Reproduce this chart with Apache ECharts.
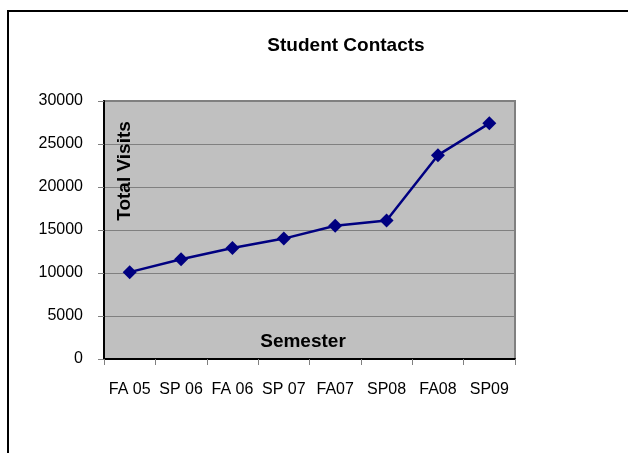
<!DOCTYPE html>
<html>
<head>
<meta charset="utf-8">
<script src="https://cdn.jsdelivr.net/npm/echarts@6/dist/echarts.min.js"></script>
<style>
html,body{margin:0;padding:0;background:#fff;}
#chart{width:628px;height:453px;}
</style>
</head>
<body>
<div id="chart"></div>
<script>
var categories = ['FA 05', 'SP 06', 'FA 06', 'SP 07', 'FA07', 'SP08', 'FA08', 'SP09'];
var totalVisits = [10100, 11600, 12900, 14000, 15500, 16100, 23700, 27400];
var chartTitle = 'Student Contacts';
var yAxisTitle = 'Total Visits';
var xAxisTitle = 'Semester';

var FONT = '"Liberation Sans", Arial, sans-serif';
var chart = echarts.init(document.getElementById('chart'), null, {renderer: 'canvas'});
chart.setOption({
  animation: false,
  backgroundColor: '#ffffff',
  title: {
    text: chartTitle,
    left: 341, top: 31,
    textAlign: 'center',
    textStyle: {fontFamily: FONT, fontSize: 19, fontWeight: 'bold', color: '#000'}
  },
  graphic: [
    {type: 'rect', shape: {x: 8, y: 11, width: 700, height: 520},
     style: {fill: 'none', stroke: '#000', lineWidth: 2}, z: 100, silent: true},
    {type: 'text', x: 125, y: 171, rotation: Math.PI / 2,
     style: {text: yAxisTitle, font: 'bold 19px ' + FONT, fill: '#000', align: 'center', verticalAlign: 'middle'}, z: 100},
    {type: 'text', x: 303, y: 342,
     style: {text: xAxisTitle, font: 'bold 19px ' + FONT, fill: '#000', align: 'center', verticalAlign: 'middle'}, z: 100}
  ],
  grid: {
    left: 104, top: 101, width: 411, height: 258,
    show: true, backgroundColor: '#C0C0C0', borderColor: '#808080', borderWidth: 2
  },
  xAxis: {
    type: 'category',
    data: categories,
    boundaryGap: true,
    axisLine: {lineStyle: {color: '#000', width: 2}},
    axisTick: {show: true, length: 6, lineStyle: {color: '#808080', width: 1}},
    axisLabel: {fontFamily: FONT, fontSize: 16, color: '#000', margin: 23, interval: 0},
    splitLine: {show: false}
  },
  yAxis: {
    type: 'value',
    min: 0, max: 30000, interval: 5000,
    axisLine: {show: true, lineStyle: {color: '#000', width: 2}},
    axisTick: {show: true, length: 6, lineStyle: {color: '#808080', width: 1}},
    axisLabel: {fontFamily: FONT, fontSize: 16, color: '#000', margin: 21,
      formatter: function (v) { return String(v); }},
    splitLine: {show: true, lineStyle: {color: '#808080', width: 1}}
  },
  series: [{
    type: 'line',
    data: totalVisits,
    symbol: 'diamond',
    symbolSize: 14,
    lineStyle: {color: '#000080', width: 2.5},
    itemStyle: {color: '#000080'}
  }]
});
</script>
</body>
</html>
